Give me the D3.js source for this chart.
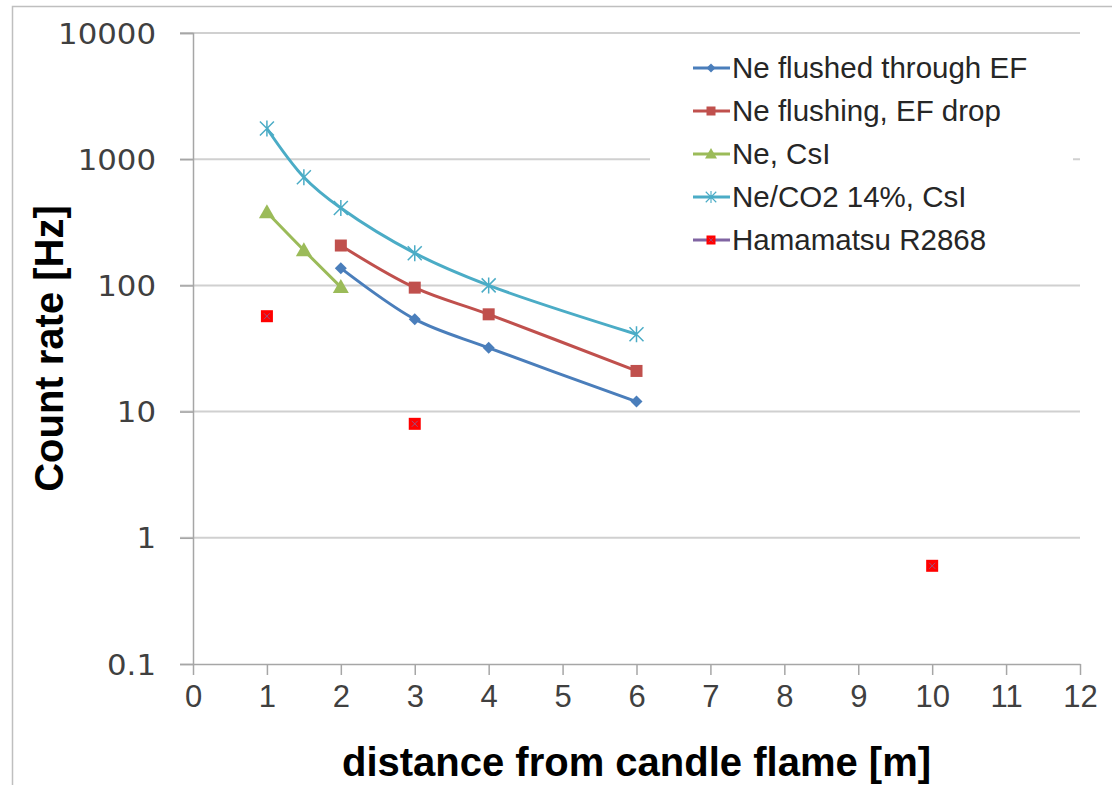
<!DOCTYPE html>
<html>
<head>
<meta charset="utf-8">
<script src="https://cdn.jsdelivr.net/npm/d3@7"></script>
<style>
  body { margin: 0; background: #fff; }
  svg { display: block; }
</style>
</head>
<body>
<div id="chart"></div>
<script>
// data
var seriesNames = [
    "Ne flushed through EF", "Ne flushing, EF drop", "Ne, CsI",
    "Ne/CO2 14%, CsI", "Hamamatsu R2868"
];
var neFlushedX = [2, 3, 4, 6];
var neFlushedY = [137, 54, 32, 12];
var neDropX = [2, 3, 4, 6];
var neDropY = [207, 96, 59, 21];
var neCsiX = [1, 1.5, 2];
var neCsiY = [380, 190, 97];
var neCo2X = [1, 1.5, 2, 3, 4, 6];
var neCo2Y = [1750, 720, 410, 180, 100, 41];
var hamaX = [1, 3, 10];
var hamaY = [57, 8, 0.6];
var xTicks = [0, 1, 2, 3, 4, 5, 6, 7, 8, 9, 10, 11, 12];
var yTicks = [0.1, 1, 10, 100, 1000, 10000];

var width = 1112, height = 785;
var margin = {left: 193, right: 32, top: 33, bottom: 121};

var svg = d3.select("#chart").append("svg")
    .attr("width", width)
    .attr("height", height);

// outer chart frame
svg.append("rect")
    .attr("x", 12.5).attr("y", 6.5)
    .attr("width", 1300).attr("height", 1000)
    .attr("fill", "#fff")
    .attr("stroke", "#bfbfbf")
    .attr("stroke-width", 1.5);

var x = d3.scaleLinear()
    .domain([0, 12])
    .range([margin.left, width - margin.right]);
var y = d3.scaleLog()
    .domain([0.1, 10000])
    .range([height - margin.bottom, margin.top]);

// gridlines
svg.append("g")
    .attr("class", "grid")
    .selectAll("line")
    .data(yTicks.slice(1))
    .enter().append("line")
    .attr("x1", x(0) - 13).attr("x2", x(12))
    .attr("y1", d => y(d)).attr("y2", d => y(d))
    .attr("stroke", "#d0d0d0")
    .attr("stroke-width", 2);

// y axis
var yAxis = svg.append("g")
    .attr("transform", "translate(" + x(0) + ",0)")
    .call(d3.axisLeft(y).tickValues(yTicks).tickSize(13).tickPadding(0)
        .tickFormat(d => d < 1 ? "0.1" : d3.format("d")(d)));
yAxis.select(".domain").attr("stroke", "#a6a6a6").attr("stroke-width", 1.5);
yAxis.selectAll(".tick line").attr("stroke", "#a6a6a6").attr("stroke-width", 1.5);
yAxis.selectAll(".tick text")
    .attr("x", null)
    .attr("dy", null)
    .attr("transform", "translate(-37,10) scale(1.1,1)")
    .style("font-family", "'DejaVu Sans', sans-serif")
    .style("font-size", "28px")
    .attr("fill", "#404040");

// x axis
var xAxis = svg.append("g")
    .attr("transform", "translate(0," + y(0.1) + ")")
    .call(d3.axisBottom(x).tickValues(xTicks).tickSize(11).tickSizeOuter(0).tickPadding(0));
xAxis.select(".domain").attr("stroke", "#a6a6a6").attr("stroke-width", 1.5);
xAxis.selectAll(".tick line").attr("stroke", "#a6a6a6").attr("stroke-width", 1.5);
xAxis.selectAll(".tick text")
    .attr("y", 43)
    .attr("dy", null)
    .style("font-family", "'Liberation Sans', Arial, sans-serif")
    .style("font-size", "31px")
    .attr("fill", "#404040");

// axis titles
svg.append("text")
    .attr("x", (x(0) + x(12)) / 2)
    .attr("y", 776)
    .attr("text-anchor", "middle")
    .style("font-family", "'Liberation Sans', Arial, sans-serif")
    .style("font-weight", "bold")
    .style("font-size", "40px")
    .text("distance from candle flame [m]");

svg.append("text")
    .attr("transform", "translate(63," + (y(0.1) + y(10000)) / 2 + ") rotate(-90)")
    .attr("text-anchor", "middle")
    .style("font-family", "'Liberation Sans', Arial, sans-serif")
    .style("font-weight", "bold")
    .style("font-size", "40px")
    .text("Count rate [Hz]");

// series
var series = [
    {name: seriesNames[0], xs: neFlushedX, ys: neFlushedY, color: "#4a7ebb", marker: "diamond", line: true},
    {name: seriesNames[1], xs: neDropX, ys: neDropY, color: "#c0504d", marker: "square", line: true},
    {name: seriesNames[2], xs: neCsiX, ys: neCsiY, color: "#9bbb59", marker: "triangle", line: true},
    {name: seriesNames[3], xs: neCo2X, ys: neCo2Y, color: "#4bacc6", marker: "star", line: true},
    {name: seriesNames[4], xs: hamaX, ys: hamaY, color: "#ff0000", lineColor: "#8064a2", marker: "hsquare", line: false}
];

var line = d3.line()
    .x(d => x(d[0]))
    .y(d => y(d[1]))
    .curve(d3.curveCatmullRom.alpha(0.5));

function drawMarker(g, type, color) {
    if (type === "diamond") {
        g.append("path").attr("d", "M0,-6L6,0L0,6L-6,0Z").attr("fill", color);
    } else if (type === "square") {
        g.append("rect").attr("x", -6).attr("y", -6).attr("width", 12).attr("height", 12).attr("fill", color);
    } else if (type === "triangle") {
        g.append("path").attr("d", "M0,-8L8,6L-8,6Z").attr("fill", color);
    } else if (type === "star") {
        g.append("path").attr("d", "M-7,-7L7,7M-7,7L7,-7M0,-8L0,8")
            .attr("stroke", color).attr("stroke-width", 1.5).attr("fill", "none");
    } else if (type === "hsquare") {
        g.append("rect").attr("x", -6).attr("y", -6).attr("width", 12).attr("height", 12).attr("fill", color);
        g.append("path").attr("d", "M-3,-3L3,3M-3,3L3,-3")
            .attr("stroke", "#8064a2").attr("stroke-width", 0.8);
    }
}

series.forEach(function (s) {
    var pts = s.xs.map((v, i) => [v, s.ys[i]]);
    if (s.line) {
        svg.append("path")
            .datum(pts)
            .attr("d", line)
            .attr("fill", "none")
            .attr("stroke", s.color)
            .attr("stroke-width", 3);
    }
    pts.forEach(function (p) {
        var g = svg.append("g").attr("transform", "translate(" + x(p[0]) + "," + y(p[1]) + ")");
        drawMarker(g, s.marker, s.color);
    });
});

// Legend
var legend = svg.append("g").attr("class", "legend");
legend.append("rect")
    .attr("x", 650).attr("y", 42)
    .attr("width", 423).attr("height", 236)
    .attr("fill", "#fff");

series.forEach(function (s, i) {
    var ly = 68 + i * 43;
    legend.append("line")
        .attr("x1", 693).attr("x2", 730)
        .attr("y1", ly).attr("y2", ly)
        .attr("stroke", s.lineColor || s.color)
        .attr("stroke-width", 3);
    var g = legend.append("g").attr("transform", "translate(711," + ly + ") scale(0.75)");
    drawMarker(g, s.marker, s.color);
    legend.append("text")
        .attr("x", 732).attr("y", ly + 10)
        .style("font-family", "'Liberation Sans', Arial, sans-serif")
        .style("font-size", "29.5px")
        .attr("fill", "#262626")
        .text(s.name);
});
</script>
</body>
</html>
